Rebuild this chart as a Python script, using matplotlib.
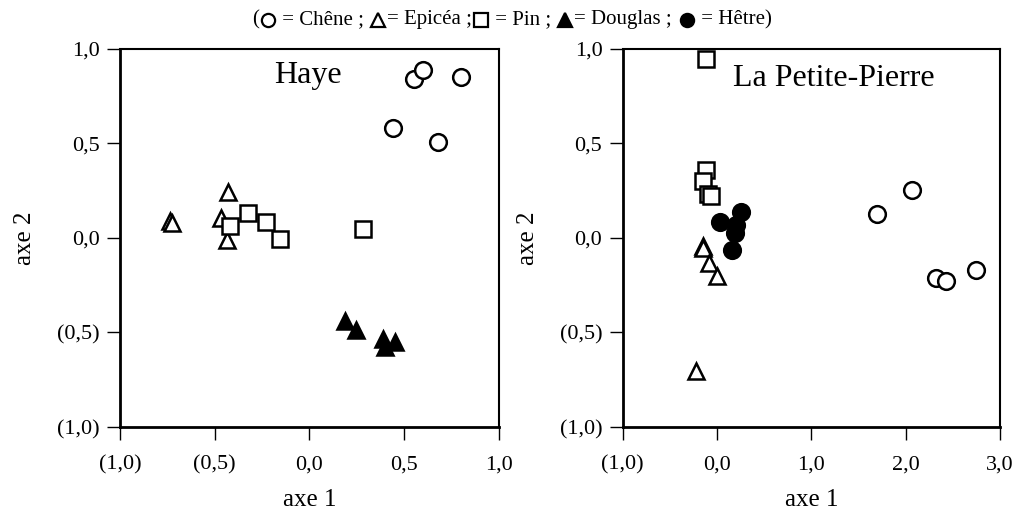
import matplotlib
matplotlib.use("Agg")
import matplotlib.pyplot as plt
from matplotlib.ticker import FuncFormatter
from matplotlib.lines import Line2D
from matplotlib.offsetbox import HPacker, TextArea, DrawingArea, AnchoredOffsetbox

plt.rcParams['font.family'] = ['Liberation Serif', 'DejaVu Sans']

# Haye
haye_chene_x = [0.55, 0.60, 0.80, 0.44, 0.68]
haye_chene_y = [0.84, 0.89, 0.85, 0.58, 0.51]
haye_epicea_x = [-0.735, -0.725, -0.43, -0.465, -0.435]
haye_epicea_y = [0.09, 0.08, 0.245, 0.105, -0.01]
haye_pin_x = [-0.42, -0.325, -0.23, -0.155, 0.28]
haye_pin_y = [0.065, 0.13, 0.085, -0.005, 0.05]
haye_douglas_x = [0.19, 0.245, 0.39, 0.45, 0.40]
haye_douglas_y = [-0.44, -0.485, -0.535, -0.55, -0.575]

# La Petite-Pierre
lpp_chene_x = [1.70, 2.07, 2.32, 2.43, 2.75]
lpp_chene_y = [0.125, 0.255, -0.21, -0.225, -0.17]
lpp_epicea_x = [-0.15, -0.15, -0.08, 0.0, -0.22]
lpp_epicea_y = [-0.04, -0.055, -0.13, -0.20, -0.705]
lpp_pin_x = [-0.115, -0.115, -0.15, -0.09, -0.06]
lpp_pin_y = [0.945, 0.36, 0.30, 0.235, 0.22]
lpp_hetre_x = [0.035, 0.255, 0.205, 0.195, 0.16]
lpp_hetre_y = [0.085, 0.135, 0.07, 0.025, -0.065]

left_xticks = [-1.0, -0.5, 0.0, 0.5, 1.0]
right_xticks = [-1.0, 0.0, 1.0, 2.0, 3.0]
yticks = [-1.0, -0.5, 0.0, 0.5, 1.0]


def fmt(v, pos=None):
    s = f"{abs(v):.1f}".replace(".", ",")
    return f"({s})" if v < -1e-9 else s


def pts(ax, x, y, marker, fill):
    ax.plot(x, y, ls='none', marker=marker, ms=12, mfc=fill, mec='black',
            mew=1.8, clip_on=False)


fig = plt.figure(figsize=(10.2, 5.14), dpi=100)
ax1 = fig.add_axes([0.1176, 0.1693, 0.3716, 0.7354])
ax2 = fig.add_axes([0.6103, 0.1693, 0.3701, 0.7354])

pts(ax1, haye_chene_x, haye_chene_y, 'o', 'white')
pts(ax1, haye_epicea_x, haye_epicea_y, '^', 'white')
pts(ax1, haye_pin_x, haye_pin_y, 's', 'white')
pts(ax1, haye_douglas_x, haye_douglas_y, '^', 'black')

pts(ax2, lpp_chene_x, lpp_chene_y, 'o', 'white')
pts(ax2, lpp_epicea_x, lpp_epicea_y, '^', 'white')
pts(ax2, lpp_pin_x, lpp_pin_y, 's', 'white')
pts(ax2, lpp_hetre_x, lpp_hetre_y, 'o', 'black')

for ax, xt in ((ax1, left_xticks), (ax2, right_xticks)):
    ax.set_xlim(xt[0], xt[-1])
    ax.set_ylim(-1, 1)
    ax.set_xticks(xt)
    ax.set_yticks(yticks)
    ax.xaxis.set_major_formatter(FuncFormatter(fmt))
    ax.yaxis.set_major_formatter(FuncFormatter(fmt))
    ax.tick_params(direction='out', length=9.5, width=1.0, labelsize=16,
                   colors='black')
    ax.tick_params(axis='x', pad=11)
    ax.tick_params(axis='y', pad=5)
    for side in ('left', 'bottom'):
        ax.spines[side].set_linewidth(2.0)
    for side in ('top', 'right'):
        ax.spines[side].set_linewidth(1.5)
    ax.set_xlabel('axe 1', fontsize=18, labelpad=10)
    ax.set_ylabel('axe 2', fontsize=18, labelpad=15)

ax1.text(0.497, 0.93, 'Haye', transform=ax1.transAxes, fontsize=23,
         ha='center', va='center')
ax2.text(0.56, 0.923, 'La Petite-Pierre', transform=ax2.transAxes,
         fontsize=23, ha='center', va='center')

# legend line at the top
tp = dict(fontsize=15)


def sym(marker, fill):
    da = DrawingArea(13, 12, 0, 0)
    da.add_artist(Line2D([6.5], [6], marker=marker, ms=9.5, mfc=fill,
                         mec='black', mew=1.6, ls='none'))
    return da


parts = [TextArea('(', textprops=tp), sym('o', 'white'),
         TextArea(' = Chêne ; ', textprops=tp), sym('^', 'white'),
         TextArea('= Epicéa ;', textprops=tp), sym('s', 'white'),
         TextArea(' = Pin ; ', textprops=tp), sym('^', 'black'),
         TextArea('= Douglas ; ', textprops=tp), sym('o', 'black'),
         TextArea(' = Hêtre)', textprops=tp)]
pack = HPacker(children=parts, align='center', pad=0, sep=0)
box = AnchoredOffsetbox(loc='center', child=pack, pad=0, borderpad=0,
                        bbox_to_anchor=(0.5015, 0.962),
                        bbox_transform=fig.transFigure, frameon=False)
fig.add_artist(box)

fig.savefig('out.png', dpi=100)
